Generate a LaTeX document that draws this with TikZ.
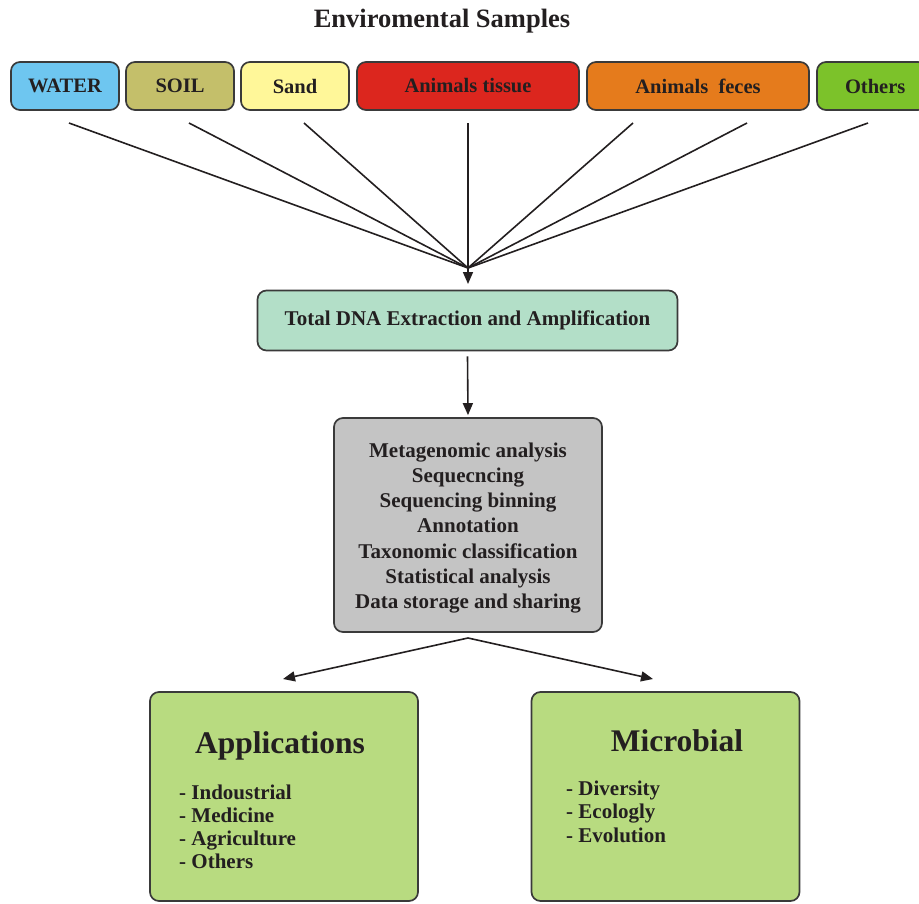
\documentclass[tikz,border=0pt]{standalone}
\usepackage{fontspec}
\setmainfont{Liberation Serif}
\usetikzlibrary{arrows.meta}
\definecolor{txt}{HTML}{231F20}
\definecolor{bord}{HTML}{3A3A3A}
\definecolor{cwater}{HTML}{6EC6F0}
\definecolor{csoil}{HTML}{C4BF6A}
\definecolor{csand}{HTML}{FFF799}
\definecolor{ctissue}{HTML}{DC261E}
\definecolor{cfeces}{HTML}{E57B1C}
\definecolor{cothers}{HTML}{7CC22A}
\definecolor{cdna}{HTML}{B3DFC8}
\definecolor{cgray}{HTML}{C4C4C4}
\definecolor{cgreen}{HTML}{B8DB80}
\begin{document}
\begin{tikzpicture}[x=1pt,y=-1pt,
  box/.style={draw=bord, line width=1.7pt, rounded corners=9pt, inner sep=0pt, text=txt,
    font=\bfseries\fontsize{20.5}{24}\selectfont},
  conn/.style={draw=txt, line width=1.6pt},
  arr/.style={conn, -{Triangle[length=12pt,width=10pt]}},
  lbl/.style={text=txt, inner sep=0pt, font=\bfseries\fontsize{21}{23.3}\selectfont},
  big/.style={text=txt, inner sep=0pt, font=\bfseries\fontsize{31.5}{36}\selectfont}]
\useasboundingbox (0,0) rectangle (919,903);

\node[text=txt, font=\bfseries\fontsize{26.5}{30}\selectfont] (title) at (442,21) {Enviromental Samples};

\node[box, fill=cwater, minimum width=108pt, minimum height=48pt] (water) at (65,86) {\raisebox{-1.5pt}{WATER}};
\node[box, fill=csoil, minimum width=108pt, minimum height=48pt] (soil) at (180,86) {\raisebox{-1.5pt}{SOIL}};
\node[box, fill=csand, minimum width=108pt, minimum height=48pt] (sand) at (295,86) {\raisebox{-1.5pt}{Sand}};
\node[box, fill=ctissue, minimum width=222pt, minimum height=48pt] (tissue) at (468,86) {\raisebox{-1.5pt}{Animals tissue}};
\node[box, fill=cfeces, minimum width=222pt, minimum height=48pt] (feces) at (698,86) {\raisebox{-1.5pt}{Animals\ \ feces}};
\node[box, fill=cothers, minimum width=110pt, minimum height=48pt, text width=102pt, align=left] (others) at (872,86) {\hspace*{24pt}\raisebox{-1.5pt}{Others}};

\coordinate (s1) at (69,123);
\coordinate (s2) at (189,123);
\coordinate (s3) at (304,123);
\coordinate (s4) at (468,123);
\coordinate (s5) at (633,123);
\coordinate (s6) at (747,123);
\coordinate (s7) at (868,123);
\coordinate (conv) at (468,268);
\coordinate (tip) at (468,284);

\draw[conn] (s1) -- (conv);
\draw[conn] (s2) -- (conv);
\draw[conn] (s3) -- (conv);
\draw[conn] (s5) -- (conv);
\draw[conn] (s6) -- (conv);
\draw[conn] (s7) -- (conv);
\draw[arr] (s4) -- (tip);

\node[box, fill=cdna, minimum width=420pt, minimum height=60pt, font=\bfseries\fontsize{21}{24}\selectfont] (dna) at (467.5,320.5) {\raisebox{-1.5pt}{Total DNA Extraction and Amplification}};

\node[box, fill=cgray, minimum width=268pt, minimum height=214pt] (meta) at (468,525) {};
\node[text=txt, inner sep=0pt, align=center, font=\bfseries\fontsize{21}{25.2}\selectfont] (metatext) at (468,528) {Metagenomic analysis\\Sequecncing\\Sequencing binning\\Annotation\\Taxonomic classification\\Statistical analysis\\Data storage and sharing};

\draw[arr] ([yshift=-5pt]dna.south) -- ([yshift=2pt]meta.north);

\coordinate (split) at (468,638);
\coordinate (tipA) at (283,679);
\coordinate (tipM) at (653,679);

\node[box, fill=cgreen, minimum width=268pt, minimum height=209pt] (app) at (284,796.5) {};
\node[box, fill=cgreen, minimum width=268pt, minimum height=209pt] (mic) at (665.5,796.5) {};

\draw[arr] (split) -- (tipA);
\draw[arr] (split) -- (tipM);

\node[big] (apptitle) at (280,746) {Applications};
\node[lbl, anchor=base west] (a1) at (179,799) {- Indoustrial};
\node[lbl, anchor=base west] (a2) at (179,822.3) {- Medicine};
\node[lbl, anchor=base west] (a3) at (179,845.6) {- Agriculture};
\node[lbl, anchor=base west] (a4) at (179,868.9) {- Others};

\node[big] (mictitle) at (677,741) {Microbial};
\node[lbl, anchor=base west] (m1) at (566,795.5) {- Diversity};
\node[lbl, anchor=base west] (m2) at (566,818.8) {- Ecologly};
\node[lbl, anchor=base west] (m3) at (566,842.1) {- Evolution};
\end{tikzpicture}
\end{document}
